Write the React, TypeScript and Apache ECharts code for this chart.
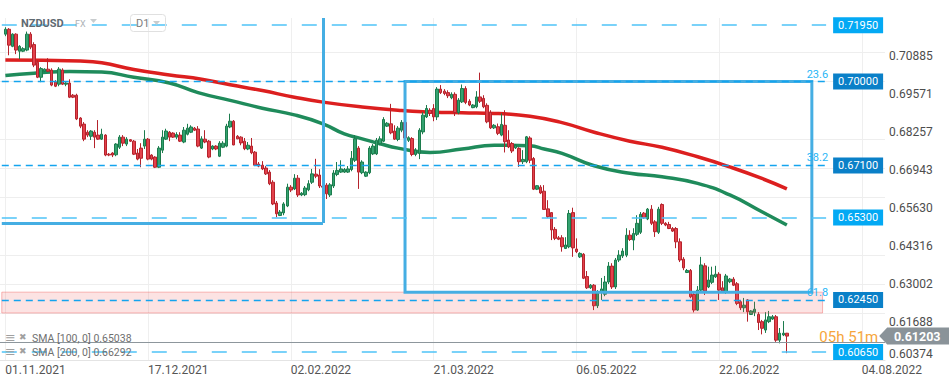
import React, { useEffect, useRef } from 'react';
import * as echarts from 'echarts';

// ---- data ----
const slotCount = 248; // x-axis slots (slot 0 left empty, candle i sits in slot i + 1)
const tickSlots = [1, 41, 81, 121, 161, 201, 241];
const tickLabels = ['01.11.2021', '17.12.2021', '02.02.2022', '21.03.2022', '06.05.2022', '22.06.2022', '04.08.2022'];
const priceTicks = [0.60374, 0.61688, 0.63002, 0.64316, 0.6563, 0.66943, 0.68257, 0.69571, 0.70885];
const yMin = 0.60374;
const yMax = 0.72199;

// daily candles [open, close, low, high]
const ohlc = [
  [0.7164, 0.7181, 0.7157, 0.7188], [0.7181, 0.7126, 0.7091, 0.7185], [0.7122, 0.7164, 0.7119, 0.7167], [0.7164, 0.7109, 0.7095, 0.7167],
  [0.7105, 0.7122, 0.7078, 0.7126], [0.7105, 0.7114, 0.7102, 0.7119], [0.7109, 0.7164, 0.7105, 0.7173], [0.7164, 0.7119, 0.7112, 0.7171],
  [0.7128, 0.7057, 0.7050, 0.7136], [0.7067, 0.7015, 0.7012, 0.7074], [0.7015, 0.7045, 0.6998, 0.7050], [0.7036, 0.7043, 0.7033, 0.7046],
  [0.7043, 0.7036, 0.7033, 0.7081], [0.7040, 0.6988, 0.6984, 0.7046], [0.6998, 0.6984, 0.6981, 0.7005], [0.6991, 0.7043, 0.6984, 0.7050],
  [0.7040, 0.6991, 0.6988, 0.7046], [0.6991, 0.6995, 0.6984, 0.6998], [0.6995, 0.6946, 0.6943, 0.7008], [0.6953, 0.6946, 0.6943, 0.6957],
  [0.6953, 0.6871, 0.6867, 0.6958], [0.6874, 0.6846, 0.6839, 0.6877], [0.6853, 0.6801, 0.6794, 0.6860], [0.6825, 0.6815, 0.6808, 0.6832],
  [0.6811, 0.6829, 0.6798, 0.6832], [0.6825, 0.6808, 0.6770, 0.6832], [0.6815, 0.6801, 0.6798, 0.6867], [0.6801, 0.6818, 0.6798, 0.6837],
  [0.6815, 0.6746, 0.6742, 0.6818], [0.6749, 0.6746, 0.6742, 0.6753], [0.6753, 0.6746, 0.6739, 0.6756], [0.6747, 0.6784, 0.6742, 0.6787],
  [0.6773, 0.6808, 0.6767, 0.6815], [0.6808, 0.6787, 0.6777, 0.6815], [0.6784, 0.6801, 0.6777, 0.6808], [0.6799, 0.6794, 0.6791, 0.6801],
  [0.6794, 0.6749, 0.6746, 0.6798], [0.6753, 0.6732, 0.6728, 0.6767], [0.6770, 0.6735, 0.6704, 0.6787], [0.6777, 0.6801, 0.6767, 0.6832],
  [0.6801, 0.6732, 0.6728, 0.6805], [0.6746, 0.6732, 0.6728, 0.6749], [0.6739, 0.6704, 0.6701, 0.6742], [0.6704, 0.6770, 0.6701, 0.6777],
  [0.6763, 0.6808, 0.6753, 0.6832], [0.6801, 0.6829, 0.6798, 0.6837], [0.6825, 0.6808, 0.6794, 0.6829], [0.6822, 0.6808, 0.6805, 0.6825],
  [0.6808, 0.6817, 0.6801, 0.6825], [0.6815, 0.6794, 0.6791, 0.6825], [0.6791, 0.6832, 0.6787, 0.6843], [0.6818, 0.6839, 0.6814, 0.6854],
  [0.6825, 0.6843, 0.6822, 0.6849], [0.6839, 0.6832, 0.6829, 0.6843], [0.6836, 0.6777, 0.6773, 0.6846], [0.6770, 0.6802, 0.6767, 0.6811],
  [0.6801, 0.6791, 0.6787, 0.6832], [0.6794, 0.6739, 0.6735, 0.6798], [0.6767, 0.6777, 0.6763, 0.6780], [0.6777, 0.6767, 0.6763, 0.6780],
  [0.6742, 0.6787, 0.6739, 0.6794], [0.6773, 0.6787, 0.6770, 0.6794], [0.6777, 0.6846, 0.6773, 0.6854], [0.6843, 0.6863, 0.6839, 0.6889],
  [0.6863, 0.6781, 0.6780, 0.6867], [0.6811, 0.6802, 0.6801, 0.6815], [0.6808, 0.6788, 0.6780, 0.6811], [0.6794, 0.6768, 0.6763, 0.6805],
  [0.6767, 0.6780, 0.6763, 0.6791], [0.6777, 0.6754, 0.6749, 0.6805], [0.6756, 0.6711, 0.6708, 0.6760], [0.6715, 0.6708, 0.6704, 0.6722],
  [0.6711, 0.6698, 0.6694, 0.6725], [0.6701, 0.6681, 0.6677, 0.6708], [0.6687, 0.6647, 0.6642, 0.6694], [0.6652, 0.6577, 0.6573, 0.6659],
  [0.6580, 0.6543, 0.6531, 0.6587], [0.6537, 0.6549, 0.6535, 0.6556], [0.6546, 0.6577, 0.6538, 0.6583], [0.6570, 0.6635, 0.6566, 0.6647],
  [0.6635, 0.6625, 0.6618, 0.6642], [0.6629, 0.6666, 0.6625, 0.6680], [0.6666, 0.6608, 0.6601, 0.6677], [0.6608, 0.6614, 0.6604, 0.6618],
  [0.6609, 0.6632, 0.6604, 0.6639], [0.6626, 0.6647, 0.6621, 0.6659], [0.6652, 0.6681, 0.6646, 0.6698], [0.6680, 0.6673, 0.6666, 0.6733],
  [0.6677, 0.6639, 0.6632, 0.6697], [0.6639, 0.6635, 0.6628, 0.6642], [0.6642, 0.6612, 0.6594, 0.6649], [0.6608, 0.6643, 0.6601, 0.6649],
  [0.6639, 0.6684, 0.6632, 0.6694], [0.6679, 0.6693, 0.6673, 0.6722], [0.6687, 0.6698, 0.6684, 0.6728], [0.6687, 0.6696, 0.6684, 0.6701],
  [0.6687, 0.6698, 0.6684, 0.6708], [0.6696, 0.6735, 0.6690, 0.6760], [0.6728, 0.6802, 0.6722, 0.6815], [0.6770, 0.6687, 0.6629, 0.6777],
  [0.6685, 0.6722, 0.6680, 0.6728], [0.6673, 0.6687, 0.6670, 0.6690], [0.6685, 0.6770, 0.6680, 0.6777], [0.6750, 0.6777, 0.6746, 0.6784],
  [0.6750, 0.6797, 0.6746, 0.6805], [0.6785, 0.6802, 0.6780, 0.6811], [0.6794, 0.6869, 0.6791, 0.6877], [0.6846, 0.6856, 0.6843, 0.6860],
  [0.6854, 0.6823, 0.6818, 0.6923], [0.6829, 0.6801, 0.6798, 0.6849], [0.6800, 0.6839, 0.6794, 0.6846], [0.6832, 0.6859, 0.6825, 0.6867],
  [0.6859, 0.6805, 0.6801, 0.6867], [0.6797, 0.6806, 0.6791, 0.6811], [0.6803, 0.6748, 0.6742, 0.6808], [0.6748, 0.6763, 0.6742, 0.6770],
  [0.6752, 0.6832, 0.6732, 0.6839], [0.6826, 0.6884, 0.6818, 0.6894], [0.6878, 0.6907, 0.6874, 0.6919], [0.6901, 0.6890, 0.6881, 0.6908],
  [0.6907, 0.6878, 0.6863, 0.6922], [0.6878, 0.6974, 0.6867, 0.6981], [0.6974, 0.6962, 0.6957, 0.6988], [0.6967, 0.6959, 0.6953, 0.6974],
  [0.6962, 0.6951, 0.6943, 0.6970], [0.6944, 0.6956, 0.6939, 0.6963], [0.6956, 0.6893, 0.6881, 0.6963], [0.6893, 0.6936, 0.6887, 0.6943],
  [0.6930, 0.6976, 0.6926, 0.6990], [0.6976, 0.6928, 0.6922, 0.6984], [0.6932, 0.6919, 0.6915, 0.6939], [0.6910, 0.6919, 0.6908, 0.6922],
  [0.6913, 0.6947, 0.6908, 0.6967], [0.6947, 0.6932, 0.6926, 0.7031], [0.6942, 0.6913, 0.6908, 0.6953], [0.6918, 0.6861, 0.6856, 0.6925],
  [0.6893, 0.6840, 0.6836, 0.6901], [0.6840, 0.6849, 0.6836, 0.6853], [0.6844, 0.6821, 0.6815, 0.6855], [0.6815, 0.6852, 0.6811, 0.6890],
  [0.6849, 0.6792, 0.6755, 0.6901], [0.6798, 0.6774, 0.6770, 0.6832], [0.6786, 0.6760, 0.6753, 0.6791], [0.6771, 0.6780, 0.6767, 0.6784],
  [0.6769, 0.6723, 0.6705, 0.6773], [0.6723, 0.6731, 0.6715, 0.6763], [0.6723, 0.6809, 0.6718, 0.6812], [0.6805, 0.6728, 0.6718, 0.6811],
  [0.6734, 0.6628, 0.6625, 0.6739], [0.6628, 0.6640, 0.6625, 0.6642], [0.6635, 0.6615, 0.6611, 0.6642], [0.6621, 0.6558, 0.6556, 0.6642],
  [0.6560, 0.6533, 0.6528, 0.6590], [0.6547, 0.6487, 0.6452, 0.6549], [0.6489, 0.6458, 0.6452, 0.6497], [0.6460, 0.6455, 0.6452, 0.6466],
  [0.6460, 0.6429, 0.6412, 0.6469], [0.6423, 0.6435, 0.6421, 0.6462], [0.6429, 0.6544, 0.6424, 0.6556], [0.6547, 0.6425, 0.6394, 0.6564],
  [0.6421, 0.6412, 0.6407, 0.6458], [0.6394, 0.6406, 0.6390, 0.6410], [0.6403, 0.6320, 0.6317, 0.6407], [0.6326, 0.6287, 0.6283, 0.6345],
  [0.6287, 0.6296, 0.6283, 0.6300], [0.6296, 0.6225, 0.6210, 0.6300], [0.6225, 0.6269, 0.6217, 0.6279], [0.6272, 0.6283, 0.6245, 0.6321],
  [0.6265, 0.6307, 0.6258, 0.6328], [0.6307, 0.6362, 0.6300, 0.6376], [0.6362, 0.6290, 0.6283, 0.6372], [0.6290, 0.6383, 0.6283, 0.6390],
  [0.6383, 0.6400, 0.6376, 0.6417], [0.6397, 0.6414, 0.6390, 0.6424], [0.6400, 0.6469, 0.6393, 0.6493], [0.6469, 0.6454, 0.6449, 0.6486],
  [0.6452, 0.6475, 0.6417, 0.6493], [0.6472, 0.6510, 0.6466, 0.6538], [0.6479, 0.6541, 0.6473, 0.6549], [0.6545, 0.6529, 0.6525, 0.6549],
  [0.6525, 0.6559, 0.6521, 0.6563], [0.6559, 0.6510, 0.6504, 0.6573], [0.6515, 0.6481, 0.6463, 0.6521], [0.6479, 0.6559, 0.6473, 0.6567],
  [0.6575, 0.6510, 0.6504, 0.6579], [0.6510, 0.6504, 0.6500, 0.6514], [0.6506, 0.6492, 0.6490, 0.6515], [0.6492, 0.6483, 0.6480, 0.6497],
  [0.6492, 0.6446, 0.6424, 0.6497], [0.6446, 0.6383, 0.6376, 0.6458], [0.6386, 0.6356, 0.6348, 0.6393], [0.6340, 0.6347, 0.6338, 0.6352],
  [0.6347, 0.6256, 0.6251, 0.6352], [0.6264, 0.6210, 0.6202, 0.6272], [0.6210, 0.6279, 0.6207, 0.6293], [0.6279, 0.6366, 0.6272, 0.6394],
  [0.6363, 0.6276, 0.6262, 0.6372], [0.6290, 0.6314, 0.6286, 0.6360], [0.6306, 0.6331, 0.6300, 0.6360], [0.6325, 0.6334, 0.6321, 0.6363],
  [0.6334, 0.6279, 0.6245, 0.6341], [0.6287, 0.6276, 0.6272, 0.6310], [0.6273, 0.6328, 0.6266, 0.6335], [0.6308, 0.6317, 0.6303, 0.6321],
  [0.6317, 0.6296, 0.6293, 0.6324], [0.6301, 0.6233, 0.6227, 0.6307], [0.6239, 0.6218, 0.6210, 0.6245], [0.6218, 0.6227, 0.6203, 0.6252],
  [0.6245, 0.6204, 0.6170, 0.6248], [0.6195, 0.6207, 0.6193, 0.6210], [0.6202, 0.6213, 0.6189, 0.6239], [0.6195, 0.6167, 0.6141, 0.6203],
  [0.6170, 0.6147, 0.6126, 0.6176], [0.6141, 0.6176, 0.6131, 0.6203], [0.6170, 0.6187, 0.6165, 0.6207], [0.6179, 0.6187, 0.6176, 0.6193],
  [0.6187, 0.6106, 0.6100, 0.6193], [0.6106, 0.6130, 0.6095, 0.6148], [0.6124, 0.6130, 0.6120, 0.6172], [0.6130, 0.6120, 0.6061, 0.6131],
];

// moving averages read at sample candles [candleIndex, value]
const sma100 = [
  [0, 0.7021], [8, 0.7029], [18, 0.7035], [27, 0.7033], [36, 0.7015], [46, 0.6995], [54, 0.6962], [63, 0.6935],
  [72, 0.6908], [81, 0.6885], [89, 0.6854], [95, 0.6819], [100, 0.6802], [105, 0.6785], [110, 0.6770], [119, 0.6755],
  [128, 0.6767], [137, 0.6780], [147, 0.6778], [151, 0.6767], [156, 0.6752], [165, 0.6709], [175, 0.6683], [184, 0.6671],
  [194, 0.6648], [203, 0.6608], [212, 0.6550], [219, 0.6504],
];
const sma200 = [
  [0, 0.7075], [21, 0.7071], [27, 0.7065], [36, 0.7042], [46, 0.7023], [55, 0.7008], [63, 0.6989], [72, 0.6969],
  [81, 0.6946], [89, 0.6929], [100, 0.6912], [111, 0.6900], [119, 0.6895], [128, 0.6892], [137, 0.6890], [147, 0.6880],
  [156, 0.6858], [165, 0.6825], [175, 0.6794], [184, 0.6773], [194, 0.6740], [203, 0.6705], [212, 0.6665], [219, 0.6629],
];
const sma100Last = '0.65038';
const sma200Last = '0.66292';

const lightLevels = [0.7195, 0.653, 0.6065];
const darkLevels = [0.7, 0.671, 0.6245];
const fibLabels = ['23.6', '38.2', '61.8'];
const lastPrice = 0.61203;
const countdown = '05h 51m';

const box1 = { endCandle: 89, low: 0.6511 };
const box2 = { startCandle: 112, endCandle: 226, high: 0.7, low: 0.6272 };
const zone = { endCandle: 229, high: 0.6272, low: 0.62 };
const levelEndCandle = 230;

// ---- chart ----
const FONT = 'Roboto';
const slot = (i: number) => i + 1;

export default function App() {
  const ref = useRef<HTMLDivElement>(null);
  useEffect(() => {
    const chart = echarts.init(ref.current!, null, { renderer: 'svg' });
    const categories = Array.from({ length: slotCount }, (_, i) => String(i));
    const showTick = (idx: number) => tickSlots.includes(idx);
    const tag = (text: string, bg: string) => ({
      show: true, position: 'end', distance: 7, formatter: text, color: '#fff', backgroundColor: bg,
      padding: [3, 5, 2, 5], fontSize: 11, fontFamily: FONT,
    });
    const blue = '#45aee3';
    const option: any = {
      animation: false,
      grid: { left: -1.36, right: 64, top: 18, bottom: 25, containLabel: false },
      xAxis: {
        type: 'category', data: categories, boundaryGap: true,
        axisLine: { show: true, lineStyle: { color: '#e4e4e4' } },
        axisTick: { show: false },
        axisLabel: {
          interval: showTick, align: 'left', margin: 4, color: '#555', fontSize: 12, fontFamily: FONT,
          formatter: (_v: string, idx: number) => { const k = tickSlots.indexOf(idx); return k >= 0 ? tickLabels[k] : ''; },
        },
        splitLine: { show: true, interval: showTick, alignWithLabel: true, lineStyle: { color: '#efefef', width: 1 } },
      },
      yAxis: {
        type: 'value', min: yMin, max: yMax, position: 'right',
        axisLine: { show: false }, axisTick: { show: false }, axisLabel: { show: false }, splitLine: { show: false },
      },
      series: [
        {
          name: 'grid', type: 'line', data: [], silent: true,
          markLine: {
            z: 1, silent: true, animation: false, symbol: ['none', 'none'],
            lineStyle: { color: '#eeeeee', width: 1, type: 'solid' },
            label: { show: false },
            data: priceTicks.map((v) => ({ yAxis: v })),
          },
        },
        {
          name: 'SMA 200', type: 'line', z: 2, smooth: true, showSymbol: false, silent: true,
          data: sma200.map(([i, v]) => [slot(i), v]),
          lineStyle: { color: '#dc1f1f', width: 3.5 },
        },
        {
          name: 'SMA 100', type: 'line', z: 2, smooth: true, showSymbol: false, silent: true,
          data: sma100.map(([i, v]) => [slot(i), v]),
          lineStyle: { color: '#1f8b5b', width: 3.5 },
        },
        {
          name: 'NZDUSD', type: 'candlestick', z: 3, barWidth: 3,
          data: [[NaN, NaN, NaN, NaN], ...ohlc],
          itemStyle: {
            color: '#34a270', borderColor: '#1c7c4d', color0: '#e3414b', borderColor0: '#b5232c', borderWidth: 1,
          },
        },
        {
          name: 'levels', type: 'line', data: [], silent: true,
          markArea: {
            z: 4, silent: true, label: { show: false },
            data: [
              [
                { coord: [0, zone.high], itemStyle: { color: 'rgba(239, 83, 80, 0.16)', borderColor: 'rgba(239, 83, 80, 0.4)', borderWidth: 1 } },
                { coord: [slot(zone.endCandle), zone.low] },
              ],
              [
                { coord: [slot(box2.startCandle), box2.high], itemStyle: { color: 'rgba(0,0,0,0)', borderColor: blue, borderWidth: 3 } },
                { coord: [slot(box2.endCandle), box2.low] },
              ],
            ],
          },
          markLine: {
            z: 5, silent: true, animation: false, symbol: ['none', 'none'],
            label: { show: false },
            data: [
              ...lightLevels.map((v) => [
                { coord: [0, v], lineStyle: { color: '#4fc3f7', type: [15, 15], width: 1.5 }, label: tag(v.toFixed(5), '#03a9f4') },
                { coord: [slot(levelEndCandle), v] },
              ]),
              ...darkLevels.map((v) => [
                { coord: [0, v], lineStyle: { color: '#14a4ee', type: [7, 5], width: 1.4 }, label: tag(v.toFixed(5), '#0a80c8') },
                { coord: [slot(levelEndCandle), v] },
              ]),
              [
                { coord: [slot(box1.endCandle), yMax], lineStyle: { color: blue, width: 3, type: 'solid' } },
                { coord: [slot(box1.endCandle), box1.low] },
              ],
              [
                { coord: [0, box1.low], lineStyle: { color: blue, width: 3, type: 'solid' } },
                { coord: [slot(box1.endCandle), box1.low] },
              ],
              { yAxis: lastPrice, lineStyle: { color: '#8d969c', width: 1, type: 'solid' } },
            ],
          },
          markPoint: {
            z: 10, silent: true, animation: false,
            data: [
              {
                coord: [slotCount - 1, lastPrice],
                symbol: 'path://M0,8.5L8,0L70,0L70,17L8,17Z', symbolSize: [70, 17], symbolOffset: [31, 0],
                itemStyle: { color: '#8a9399' },
                label: {
                  show: true, position: 'inside', formatter: lastPrice.toFixed(5), color: '#fff',
                  fontSize: 12.5, fontWeight: 'bold', fontFamily: FONT, offset: [3, 0],
                },
              },
            ],
          },
        },
      ],
    };
    chart.setOption(option);

    // texts placed through the chart's own scales
    const px = (slotIdx: number, price: number) => chart.convertToPixel({ gridIndex: 0 }, [slotIdx, price]) as number[];
    const gridRight = px(slotCount - 1, yMin)[0] + 1.8;
    const tickTexts = priceTicks.map((v) => {
      const [, y] = px(0, v);
      return {
        type: 'text', z: 20, x: gridRight + 4, y: v === yMin ? y - 6 : y,
        style: { text: v.toFixed(5), fill: '#4d4d4d', font: `12px ${FONT}`, verticalAlign: 'middle' },
      };
    });
    const fibTexts = darkLevels.map((v, k) => {
      const [x, y] = px(slot(levelEndCandle), v);
      return {
        type: 'text', z: 20, x: x + 2, y: y - 2,
        style: { text: fibLabels[k], fill: '#29b6f6', font: `11px ${FONT}`, align: 'right', verticalAlign: 'bottom' },
      };
    });
    const [cx, cy] = px(slotCount - 1, lastPrice);
    chart.setOption({
      graphic: [
        ...tickTexts,
        ...fibTexts,
        { type: 'text', z: 7, x: cx - 5, y: cy + 1, style: { text: countdown, fill: '#f6a53c', font: `15px ${FONT}`, align: 'right', verticalAlign: 'middle' } },
        { type: 'text', z: 20, x: 21, y: 23, style: { text: 'NZDUSD', fill: '#5f6a72', font: `bold 11px ${FONT}`, verticalAlign: 'middle' } },
        { type: 'text', z: 20, x: 75, y: 24, style: { text: 'FX', fill: '#adb2b6', font: `9px ${FONT}`, verticalAlign: 'middle' } },
        { type: 'polygon', z: 20, shape: { points: [[90, 19], [97, 19], [93.5, 23]] }, style: { fill: '#c8ccce' } },
        { type: 'rect', z: 20, shape: { x: 130.5, y: 14.5, width: 35, height: 17, r: 3 }, style: { fill: 'rgba(0,0,0,0)', stroke: '#e0e0e0', lineWidth: 1 } },
        { type: 'text', z: 20, x: 136, y: 23.5, style: { text: 'D1', fill: '#7b7b7b', font: `11px ${FONT}`, verticalAlign: 'middle' } },
        { type: 'polygon', z: 20, shape: { points: [[153, 21], [160, 21], [156.5, 25]] }, style: { fill: '#c8ccce' } },
        { type: 'text', z: 20, x: 5, y: 337, style: { text: '≡', fill: '#a0a0a0', font: `13px DejaVu Sans`, verticalAlign: 'middle' } },
        { type: 'text', z: 20, x: 19, y: 337, style: { text: '✖', fill: '#a0a0a0', font: `9px DejaVu Sans`, verticalAlign: 'middle' } },
        { type: 'text', z: 20, x: 32, y: 338, style: { text: `SMA [100, 0] ${sma100Last}`, fill: '#6f6f6f', font: `10.5px ${FONT}`, verticalAlign: 'middle' } },
        { type: 'text', z: 20, x: 5, y: 351, style: { text: '≡', fill: '#a0a0a0', font: `13px DejaVu Sans`, verticalAlign: 'middle' } },
        { type: 'text', z: 20, x: 19, y: 351, style: { text: '✖', fill: '#a0a0a0', font: `9px DejaVu Sans`, verticalAlign: 'middle' } },
        { type: 'text', z: 20, x: 32, y: 352, style: { text: `SMA [200, 0] ${sma200Last}`, fill: '#6f6f6f', font: `10.5px ${FONT}`, verticalAlign: 'middle' } },
      ],
    });
    return () => chart.dispose();
  }, []);
  return <div ref={ref} style={{ position: 'absolute', left: 0, top: 0, width: 949, height: 385, background: '#fff' }} />;
}
